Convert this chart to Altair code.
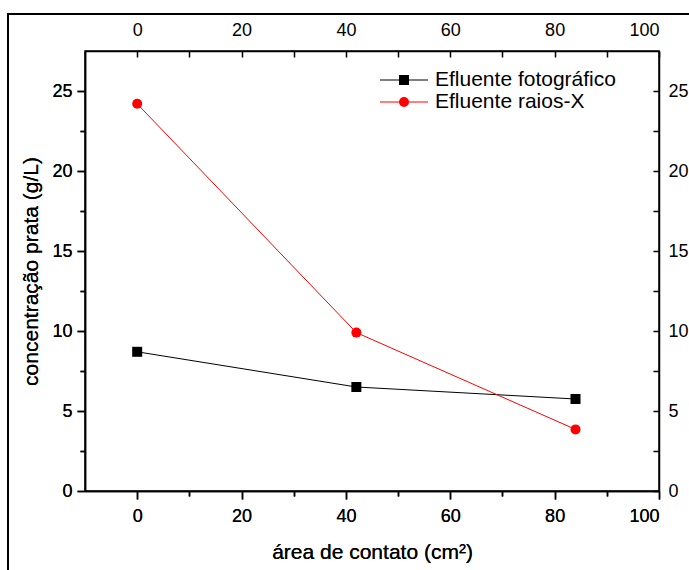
import altair as alt
import pandas as pd

# ---- data ----
area = [0, 42, 84]
foto = [8.7, 6.5, 5.75]
raiosx = [24.2, 9.9, 3.85]
series_names = ["Efluente fotográfico", "Efluente raios-X"]
series_colors = ["black", "#ff0000"]
series_shapes = ["square", "circle"]
x_tick_values = [0, 10, 20, 30, 40, 50, 60, 70, 80, 90, 100]
y_tick_values = [0, 2.5, 5, 7.5, 10, 12.5, 15, 17.5, 20, 22.5, 25]

df = pd.DataFrame({
    "area": area * 2,
    "value": foto + raiosx,
    "series": [series_names[0]] * 3 + [series_names[1]] * 3,
})

FONT = "Liberation Sans"
xscale = alt.Scale(domain=[-10, 100], nice=False, zero=False)
yscale = alt.Scale(domain=[0, 27.5], nice=False, zero=False)
cscale = alt.Scale(domain=series_names, range=series_colors)
sscale = alt.Scale(domain=series_names, range=series_shapes)

x_major = "datum.value % 20 === 0"
y_major = "datum.value % 5 === 0"

bottom_axis = alt.Axis(
    orient="bottom", values=x_tick_values, grid=False,
    labelExpr=f"{x_major} ? datum.label : ''",
    tickSize=alt.ExprRef(expr=f"{x_major} ? 8 : 5"),
    labelPadding=8, title="área de contato (cm²)", titlePadding=16,
)
left_axis = alt.Axis(
    orient="left", values=y_tick_values, grid=False,
    labelExpr=f"{y_major} ? datum.label : ''",
    tickSize=alt.ExprRef(expr=f"{y_major} ? 8 : 5"),
    labelPadding=5, title="concentração prata (g/L)", titlePadding=10,
)
top_axis = alt.Axis(
    orient="top", values=x_tick_values, grid=False,
    labelExpr=f"{x_major} ? datum.label : ''",
    tickSize=alt.ExprRef(expr="-6"),
    labelPadding=18, title=None,
)
right_axis = alt.Axis(
    orient="right", values=y_tick_values, grid=False,
    labelExpr=f"{y_major} ? datum.label : ''",
    tickSize=alt.ExprRef(expr="-6"),
    labelPadding=15, title=None,
)

base = alt.Chart(df)

lines = base.mark_line(strokeWidth=1).encode(
    x=alt.X("area:Q", scale=xscale, axis=bottom_axis),
    y=alt.Y("value:Q", scale=yscale, axis=left_axis),
    color=alt.Color("series:N", scale=cscale, legend=None),
    detail="series:N",
)
points = base.mark_point(filled=True, opacity=1, size=100).encode(
    x=alt.X("area:Q", scale=xscale, axis=bottom_axis),
    y=alt.Y("value:Q", scale=yscale, axis=left_axis),
    color=alt.Color("series:N", scale=cscale, legend=None),
    shape=alt.Shape("series:N", scale=sscale, legend=None),
)
secondary = base.mark_point(opacity=0).encode(
    x=alt.X("area:Q", scale=xscale, axis=top_axis),
    y=alt.Y("value:Q", scale=yscale, axis=right_axis),
)

one = alt.Chart(pd.DataFrame({"k": [0]}))
legend_layers = []
for i, name in enumerate(series_names):
    yy = 29 + 22 * i
    col = series_colors[i]
    legend_layers.append(one.mark_rule(color=col, strokeWidth=1).encode(
        x=alt.value(295), x2=alt.value(343), y=alt.value(yy)))
    legend_layers.append(one.mark_point(filled=True, opacity=1, size=100, color=col,
                                        shape=series_shapes[i]).encode(
        x=alt.value(319), y=alt.value(yy)))
    legend_layers.append(one.mark_text(align="left", baseline="middle", fontSize=21,
                                       font=FONT, color="black", text=name).encode(
        x=alt.value(350), y=alt.value(yy)))

frame = one.mark_rect(filled=False, stroke="black", strokeWidth=2, clip=False).encode(
    x=alt.value(-77), x2=alt.value(640), y=alt.value(-37), y2=alt.value(560))

chart = alt.layer(
    frame, secondary, lines, points, *legend_layers
).resolve_axis(x="independent", y="independent").resolve_scale(
    x="shared", y="shared"
).properties(
    width=574, height=440, autosize="none",
    padding={"left": 85, "top": 51, "right": 30, "bottom": 79},
).configure_view(stroke="black", strokeWidth=1.5).configure_axis(
    labelFont=FONT, titleFont=FONT, labelFontSize=18, titleFontSize=21,
    labelFontWeight="normal", titleFontWeight="normal",
    labelColor="black", titleColor="black",
    domainColor="black", tickColor="black", domainWidth=1.5, tickWidth=1.5,
)

chart.save("out.html", embed_options={"renderer": "svg", "actions": False})
